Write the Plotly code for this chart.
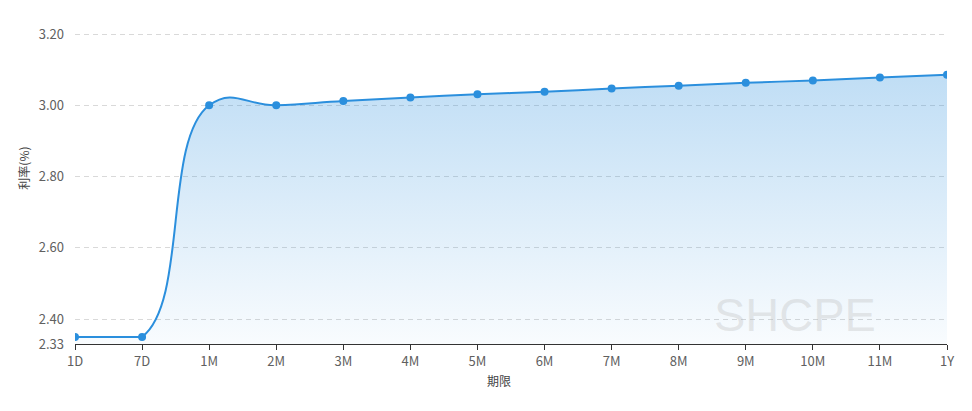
import plotly.graph_objects as go

terms = ["1D", "7D", "1M", "2M", "3M", "4M", "5M", "6M", "7M", "8M", "9M", "10M", "11M", "1Y"]
rates = [2.35, 2.35, 3.00, 3.00, 3.012, 3.022, 3.031, 3.038, 3.047, 3.055, 3.063, 3.070, 3.078, 3.086]
y_ticks = [2.33, 2.40, 2.60, 2.80, 3.00, 3.20]
y_tick_text = ["2.33", "2.40", "2.60", "2.80", "3.00", "3.20"]

FONT = "Microsoft YaHei, Noto Sans CJK SC, sans-serif"
LINE = "rgb(43,143,221)"
Y_RANGE = [2.33, 3.203]
GRAD = dict(type="vertical",
            colorscale=[[0, "rgba(43,143,221,0.03)"], [1, "rgba(43,143,221,0.30)"]],
            start=2.33, stop=3.09)

xs = list(range(len(terms)))
n = len(terms)

fig = go.Figure()
# flat short end (1D-7D), straight
fig.add_trace(go.Scatter(
    x=xs[:2], y=rates[:2], mode="lines",
    line=dict(color=LINE, width=2),
    fill="tozeroy", fillgradient=GRAD,
    showlegend=False, hoverinfo="skip",
))
# smoothed curve over the whole series, shown from 7D onward (sub-plot clipped at 7D)
fig.add_trace(go.Scatter(
    x=xs, y=rates, mode="lines", xaxis="x2", yaxis="y2",
    line=dict(color=LINE, width=2, shape="spline", smoothing=1.3),
    fill="tozeroy", fillgradient=GRAD,
    showlegend=False, hoverinfo="skip",
))
# data points
fig.add_trace(go.Scatter(
    x=xs, y=rates, mode="markers",
    marker=dict(color=LINE, size=8),
    showlegend=False,
))

fig.update_layout(
    width=964, height=403,
    margin=dict(l=67, r=25, t=25, b=67),
    paper_bgcolor="white", plot_bgcolor="rgba(0,0,0,0)",
    font=dict(family=FONT, size=12, color="#555"),
    xaxis=dict(
        tickmode="array", tickvals=xs, ticktext=terms,
        range=[0, n - 1], domain=[0, 1],
        showgrid=False, zeroline=False,
        showline=True, linecolor="#333", linewidth=1,
        ticks="outside", ticklen=5, tickcolor="#333",
        tickfont=dict(size=13, color="#606060"),
    ),
    yaxis=dict(
        range=Y_RANGE,
        tickmode="array", tickvals=y_ticks, ticktext=y_tick_text,
        showgrid=True, gridcolor="#d9d9d9", griddash="5px,4px", gridwidth=1,
        zeroline=False, showline=False, ticks="",
        tickfont=dict(size=13, color="#606060"),
        ticklabelstandoff=10,
    ),
    xaxis2=dict(range=[1, n - 1], domain=[1 / (n - 1), 1], anchor="y2",
                visible=False, showgrid=False, zeroline=False),
    yaxis2=dict(range=Y_RANGE, anchor="x2", visible=False,
                showgrid=False, zeroline=False),
    annotations=[
        dict(text="利率(%)", xref="paper", yref="paper", x=-0.0585, y=0.567,
             textangle=-90, showarrow=False, font=dict(size=12, color="#444"),
             xanchor="center", yanchor="middle"),
        dict(text="期限", xref="paper", yref="paper", x=0.486, y=-0.116,
             showarrow=False, font=dict(size=12, color="#444"),
             xanchor="center", yanchor="middle"),
        dict(text="SHCPE", xref="x", yref="y", x=10.73, y=2.414,
             showarrow=False,
             font=dict(family="Arial, Liberation Sans, sans-serif", size=47, color="rgba(190,190,190,0.35)"),
             xanchor="center", yanchor="middle"),
    ],
)

fig.write_html("out.html")
